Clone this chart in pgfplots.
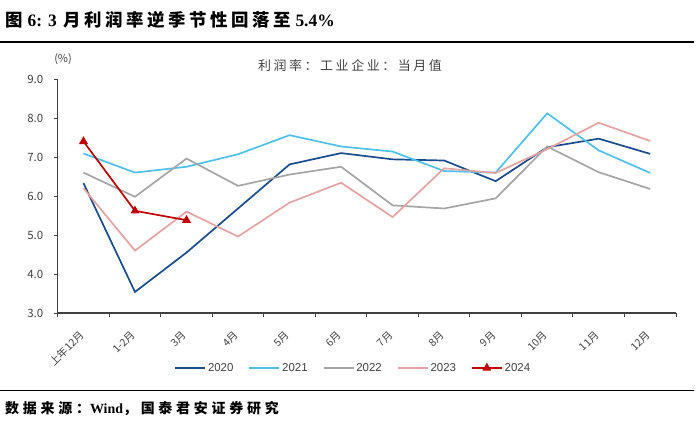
\documentclass[border=0pt]{standalone}
\usepackage{pgfplots}
\pgfplotsset{compat=1.18}
\usepackage{fontspec}
\setmainfont{Liberation Serif}
\newfontfamily\cjk{Noto Sans CJK SC}
\newfontfamily\cjkT[LetterSpace=20]{Noto Sans CJK SC}
\newfontfamily\cjkS[LetterSpace=27]{Noto Sans CJK SC}
\newfontfamily\lsans{Liberation Sans}
\definecolor{c20}{HTML}{1A4C8B}
\definecolor{c21}{HTML}{4FC1E9}
\definecolor{c22}{HTML}{A5A5A5}
\definecolor{c23}{HTML}{E3A3A3}
\definecolor{c24}{HTML}{C00000}
\definecolor{axgray}{HTML}{404040}
\begin{document}
\begin{tikzpicture}
\path[use as bounding box] (0,0) rectangle (700bp,421bp);
\node[anchor=west, font=\fontsize{17.5}{20}\selectfont\bfseries, inner sep=0pt] at (5bp,401bp) {{\cjkT 图}\hspace{5bp}6:\hspace{6bp}3\hspace{7bp}{\cjkT 月利润率逆季节性回落至}\hspace{5bp}5.4\%};
\draw[line width=1.2bp] (0bp,379bp) -- (694bp,379bp);
\draw[line width=1bp] (0bp,30bp) -- (694bp,30bp);
\node[anchor=west, font=\fontsize{14}{16}\selectfont\bfseries, inner sep=0pt] at (5bp,12bp) {{\cjkS 数据来源：}Wind{\cjkS ，国泰君安证券研究}};
\node[font=\cjk\fontsize{11}{12}\selectfont, text=axgray, inner sep=0pt] at (63bp,362bp) {(\%)};
\node[font=\cjkT\fontsize{13}{14}\selectfont, text=axgray, inner sep=0pt] at (350bp,355bp) {利润率：工业企业：当月值};
\begin{axis}[
  at={(57.7bp,108bp)}, anchor=south west,
  scale only axis, width=618.3bp, height=234bp,
  xmin=0, xmax=12, ymin=3, ymax=9,
  axis lines=left, axis line style={-, axgray, line width=1.1bp},
  xtick={0.5,1.5,...,11.5},
  xticklabels={上年12月,1-2月,3月,4月,5月,6月,7月,8月,9月,10月,11月,12月},
  minor xtick={0,1,...,12},
  major x tick style={draw=none},
  minor tick length=4bp,
  ytick={3,4,...,9},
  major tick length=4bp,
  tick align=outside,
  tick style={axgray, line width=1bp},
  xticklabel style={font=\cjk\fontsize{10.5}{12}\selectfont, text=axgray, xshift=-5bp, yshift=-8bp, rotate=45, anchor=north east},
  yticklabel style={font=\cjk\fontsize{11.5}{12}\selectfont, text=axgray, xshift=-7bp},
  yticklabel={\pgfmathprintnumber[fixed,fixed zerofill,precision=1]{\tick}},
  /pgf/number format/assume math mode=true,
  legend style={at={(0.478,-0.235)}, anchor=center, legend columns=5, draw=none, font=\lsans\fontsize{11.5}{13}\selectfont, text=axgray, /tikz/every even column/.append style={column sep=13bp}},
  legend image code/.code={\draw[mark repeat=2,mark phase=2,#1] plot coordinates {(0bp,0bp) (15bp,0bp) (30bp,0bp)};},
  every axis plot/.append style={line width=1.7bp},
  clip=false,
]
\addplot[c20, mark=none] coordinates {(0.5,6.33) (1.5,3.54) (2.5,4.55) (3.5,5.68) (4.5,6.81) (5.5,7.10) (6.5,6.94) (7.5,6.91) (8.5,6.38) (9.5,7.25) (10.5,7.47) (11.5,7.08)};
\addlegendentry{2020}
\addplot[c21, mark=none] coordinates {(0.5,7.09) (1.5,6.60) (2.5,6.75) (3.5,7.07) (4.5,7.56) (5.5,7.27) (6.5,7.14) (7.5,6.64) (8.5,6.60) (9.5,8.12) (10.5,7.17) (11.5,6.59)};
\addlegendentry{2021}
\addplot[c22, mark=none] coordinates {(0.5,6.60) (1.5,5.98) (2.5,6.96) (3.5,6.26) (4.5,6.55) (5.5,6.75) (6.5,5.76) (7.5,5.68) (8.5,5.94) (9.5,7.27) (10.5,6.61) (11.5,6.18)};
\addlegendentry{2022}
\addplot[c23, mark=none] coordinates {(0.5,6.20) (1.5,4.60) (2.5,5.60) (3.5,4.96) (4.5,5.83) (5.5,6.34) (6.5,5.46) (7.5,6.71) (8.5,6.59) (9.5,7.20) (10.5,7.88) (11.5,7.41)};
\addlegendentry{2023}
\addplot[c24, mark=triangle*, mark size=3.5bp, mark options={solid}] coordinates {(0.5,7.40) (1.5,5.62) (2.5,5.38)};
\addlegendentry{2024}
\end{axis}
\end{tikzpicture}
\end{document}
